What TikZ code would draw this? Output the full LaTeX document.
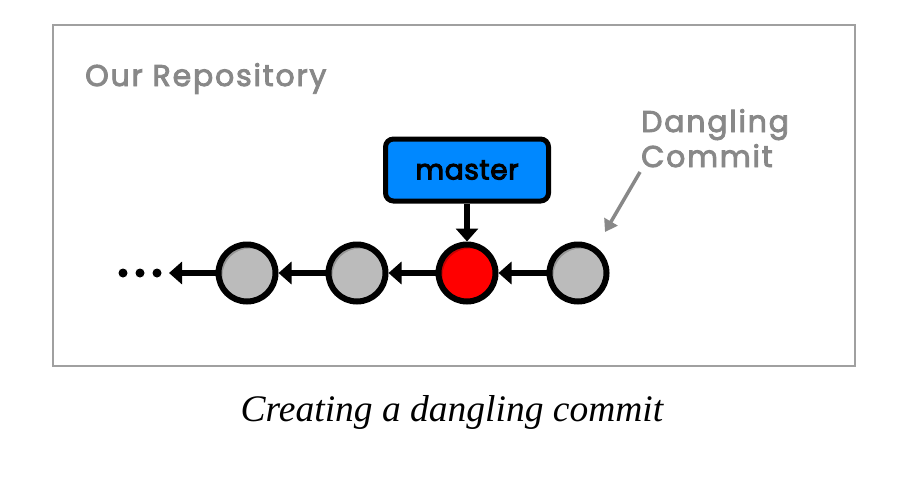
\documentclass[tikz,border=0pt]{standalone}
\usepackage{fontspec}
\setmainfont{Liberation Serif}
\newfontfamily\pop{Poppins}[LetterSpace=6]
\newfontfamily\popk{Poppins}[LetterSpace=2]
\newcommand{\heavytext}[2]{\special{pdf:literal direct 2 Tr #1 w}#2\special{pdf:literal direct 0 Tr}}
\usetikzlibrary{arrows.meta,calc}
\definecolor{lbl}{HTML}{888888}
\definecolor{frm}{HTML}{A0A0A0}
\definecolor{cgray}{HTML}{BBBBBB}
\definecolor{cgrayd}{HTML}{959595}
\definecolor{cred}{HTML}{FF0000}
\definecolor{credd}{HTML}{C80000}
\definecolor{mblue}{HTML}{0088FF}
\tikzset{
  lbltext/.style={font=\pop\fontsize{30}{35}\selectfont, text=lbl, inner sep=0pt},
  link/.style={line width=6pt, -{Triangle[length=13pt,width=22pt]}},
  commitnode/.style={circle, minimum size=57pt, inner sep=0pt, line width=6pt, draw=black},
}
\newcommand{\commitshade}[3]{%
  \begin{scope}
    \clip (#1) circle (28.5pt);
    \fill[#2] (#1) circle (28.5pt);
    \fill[#3] ($(#1)+(3pt,-3pt)$) circle (27.5pt);
  \end{scope}
}
\begin{document}
\begin{tikzpicture}[x=1pt,y=-1pt]
\useasboundingbox (0,0) rectangle (904,482);
\draw[frm, line width=1.5pt] (53,25) rectangle (855,366);
\node[lbltext, anchor=base west] (repo) at (85,86) {\heavytext{0.9}{Our Repository}};
\node[lbltext, anchor=base west] (dang1) at (641,132) {\heavytext{0.9}{Dangling}};
\node[lbltext, anchor=base west] (dang2) at (641,167) {\heavytext{0.9}{Commit}};
% commits
\coordinate (c1) at (247,273);
\coordinate (c2) at (357,273);
\coordinate (c3) at (467,273);
\coordinate (c4) at (578,273);
\commitshade{c1}{cgrayd}{cgray}
\commitshade{c2}{cgrayd}{cgray}
\commitshade{c3}{credd}{cred}
\commitshade{c4}{cgrayd}{cgray}
\node[commitnode] (n1) at (c1) {};
\node[commitnode] (n2) at (c2) {};
\node[commitnode] (n3) at (c3) {};
\node[commitnode] (n4) at (c4) {};
% dots
\fill (123,273) circle (4.5pt);
\fill (140,273) circle (4.5pt);
\fill (157,273) circle (4.5pt);
\coordinate (dots) at (169,273);
\draw[link] (n1.west) -- (dots);
\draw[link] (n2.west) -- (n1.east);
\draw[link] (n3.west) -- (n2.east);
\draw[link] (n4.west) -- (n3.east);
% master
\node[draw=black, line width=5pt, fill=mblue, rounded corners=8pt, minimum width=163pt, minimum height=62pt, font=\popk\fontsize{28}{31}\selectfont] (master) at (467,170) {\heavytext{1.0}{master}};
\draw[link] (master.south) -- (n3.north);
% dangling arrow
\coordinate (da) at (640,172);
\coordinate (db) at (605,232);
\draw[lbl, line width=3.5pt, -{Triangle[length=12pt,width=15pt]}] (da) -- (db);
% caption
\node[font=\itshape\fontsize{37.5}{40}\selectfont, anchor=base] (cap) at (452,421) {Creating a dangling commit};
\end{tikzpicture}
\end{document}
